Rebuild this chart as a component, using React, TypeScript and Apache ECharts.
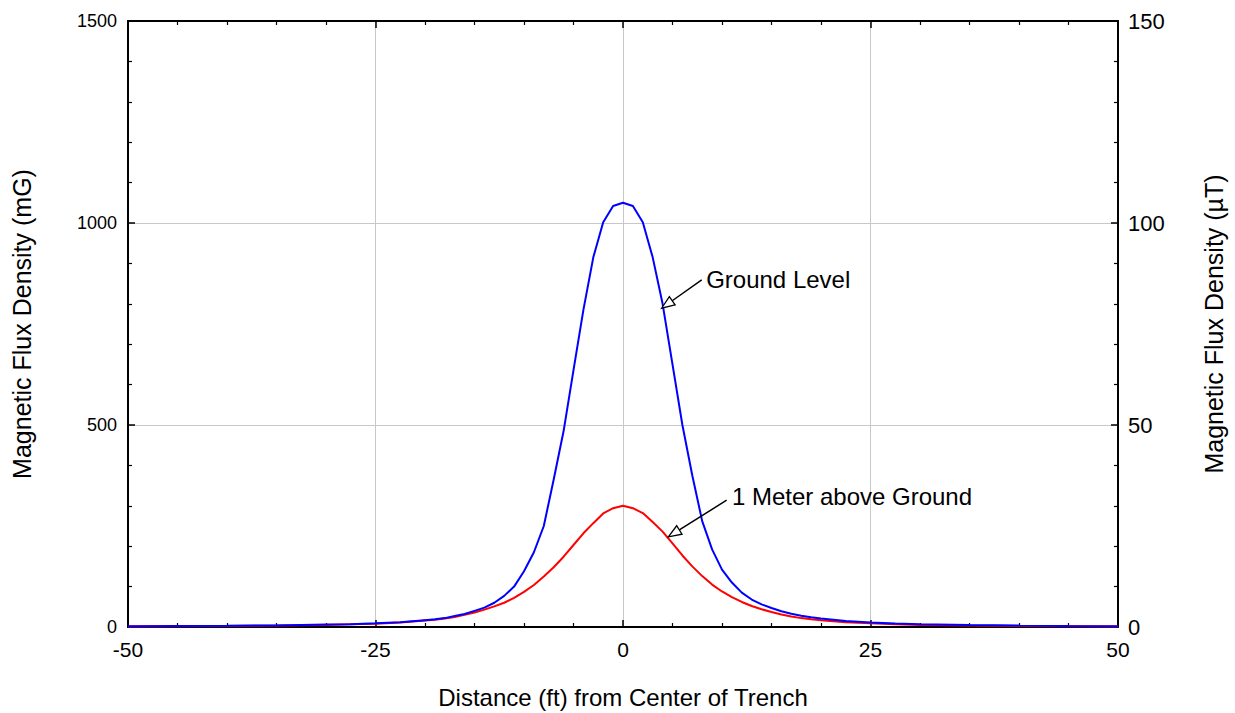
import React, { useEffect, useRef } from "react";
import * as echarts from "echarts";

const distances = [
  -50, -45, -40, -35, -30, -27.5, -25, -22.5, -20, -19, -18, -17, -16, -15, -14, -13, -12, -11, -10, -9, -8, -7, -6, -5, -4, -3, -2, -1,
  0, 1, 2, 3, 4, 5, 6, 7, 8, 9, 10, 11, 12, 13, 14, 15, 16, 17, 18, 19, 20, 22.5, 25, 27.5, 30, 35, 40, 45, 50,
];

const groundLevel = [
  2, 2.5, 3, 4, 6, 7, 9, 12, 17, 19, 22, 27, 32, 40, 48, 60, 77, 100, 138, 185, 250, 365, 485, 636, 785, 915, 1002, 1042,
  1050, 1042, 1002, 915, 800, 650, 500, 375, 262, 192, 142, 110, 85, 68, 56, 47, 39, 33, 28, 24, 21, 15, 11, 8.5, 7, 5, 3.5, 2.5, 2,
];

const oneMeterAbove = [
  1.5, 2, 2.5, 3.5, 5, 6.5, 8, 11, 16, 18, 21, 25, 30, 36, 43, 51, 60, 72, 87, 104, 125, 148, 174, 203, 232, 257, 281, 294,
  300, 294, 282, 260, 236, 207, 177, 150, 126, 105, 88, 74, 62, 52, 44, 37, 31, 26, 22, 19, 17, 12, 9, 7, 5, 3.5, 2.5, 2, 1.5,
];

const leftTicks = { min: 0, max: 1500, interval: 500 };
const rightTicks = { min: 0, max: 150, interval: 50 };
const xTicks = { min: -50, max: 50, interval: 25 };

// annotations in data coordinates: [label, textAnchor, arrowTail, arrowTip]
const annotations: [string, number[], number[], number[]][] = [
  ["Ground Level", [8.4, 859], [7.95, 859], [3.9, 789]],
  ["1 Meter above Ground", [11.0, 322], [10.47, 314], [4.58, 223]],
];

const FONT = "'Liberation Sans', Arial, sans-serif";

export default function App() {
  const ref = useRef<HTMLDivElement>(null);
  useEffect(() => {
    if (!ref.current) return;
    const chart = echarts.init(ref.current, null, { renderer: "svg" });
    const axisLine = { show: true, onZero: false, lineStyle: { color: "#000", width: 2 } };
    const tick = { show: true, inside: true, length: 7, lineStyle: { color: "#000", width: 1.5 } };
    const minor = { show: true, splitNumber: 5, length: 4, lineStyle: { color: "#000", width: 1.2 } };
    const fmt = (v: number) => String(v);
    const label = { color: "#000", fontFamily: FONT, formatter: fmt };
    const nameStyle = { color: "#000", fontSize: 25, fontFamily: FONT };
    chart.setOption({
      animation: false,
      backgroundColor: "#fff",
      grid: { left: 128, right: 117, top: 21, bottom: 86, containLabel: false, outerBoundsMode: "none" },
      xAxis: [
        {
          type: "value",
          ...xTicks,
          position: "bottom",
          name: "Distance (ft) from Center of Trench",
          nameLocation: "middle",
          nameGap: 57,
          nameTextStyle: { ...nameStyle, fontSize: 24, lineHeight: 26 },
          axisLine,
          axisTick: tick,
          minorTick: minor,
          axisLabel: { ...label, fontSize: 21, margin: 12 },
          splitLine: { show: true, lineStyle: { color: "#c8c8c8", width: 1 } },
        },
        {
          type: "value",
          ...xTicks,
          position: "top",
          axisLine,
          axisTick: tick,
          minorTick: minor,
          axisLabel: { show: false },
          splitLine: { show: false },
        },
      ],
      yAxis: [
        {
          type: "value",
          ...leftTicks,
          position: "left",
          name: "Magnetic Flux Density (mG)",
          nameLocation: "middle",
          nameGap: 94,
          nameTextStyle: nameStyle,
          axisLine,
          axisTick: tick,
          minorTick: minor,
          axisLabel: { ...label, fontSize: 18, margin: 11 },
          splitLine: { show: true, lineStyle: { color: "#c8c8c8", width: 1 } },
        },
        {
          type: "value",
          ...rightTicks,
          position: "right",
          name: "Magnetic Flux Density (\u00b5T)",
          nameLocation: "middle",
          nameGap: 83,
          nameTextStyle: nameStyle,
          axisLine,
          axisTick: tick,
          minorTick: minor,
          axisLabel: { ...label, fontSize: 22, margin: 10 },
          splitLine: { show: false },
        },
      ],
      series: [
        {
          type: "line",
          name: "1 Meter above Ground",
          data: distances.map((d, i) => [d, oneMeterAbove[i]]),
          showSymbol: false,
          symbol: "none",
          lineStyle: { color: "#ff0000", width: 2 },
          z: 2,
        },
        {
          type: "line",
          name: "Ground Level",
          data: distances.map((d, i) => [d, groundLevel[i]]),
          showSymbol: false,
          symbol: "none",
          lineStyle: { color: "#0000ff", width: 2 },
          z: 3,
        },
      ],
    });

    const toPx = (p: number[]) => chart.convertToPixel({ xAxisIndex: 0, yAxisIndex: 0 }, p) as number[];
    const graphics: any[] = [];
    annotations.forEach(([text, tAnchor, tail, tip]) => {
      const a = toPx(tAnchor);
      const s = toPx(tail);
      const e = toPx(tip);
      const dx = e[0] - s[0];
      const dy = e[1] - s[1];
      const len = Math.hypot(dx, dy);
      const ux = dx / len;
      const uy = dy / len;
      const L = 13;
      const W = 5;
      const bx = e[0] - ux * L;
      const by = e[1] - uy * L;
      graphics.push({
        type: "line",
        shape: { x1: s[0], y1: s[1], x2: bx, y2: by },
        style: { stroke: "#000", lineWidth: 1.5 },
        z: 10,
      });
      graphics.push({
        type: "polygon",
        shape: {
          points: [
            [e[0], e[1]],
            [bx - uy * W, by + ux * W],
            [bx + uy * W, by - ux * W],
          ],
        },
        style: { fill: "#fff", stroke: "#000", lineWidth: 1.3 },
        z: 10,
      });
      graphics.push({
        type: "text",
        x: a[0],
        y: a[1],
        style: {
          text,
          fill: "#000",
          font: `24px ${FONT}`,
          textAlign: "left",
          textVerticalAlign: "middle",
          align: "left",
          verticalAlign: "middle",
        },
        z: 10,
      });
    });
    chart.setOption({ graphic: graphics });

    return () => chart.dispose();
  }, []);
  return <div ref={ref} style={{ position: "absolute", left: 0, top: 0, width: 1235, height: 713 }} />;
}
